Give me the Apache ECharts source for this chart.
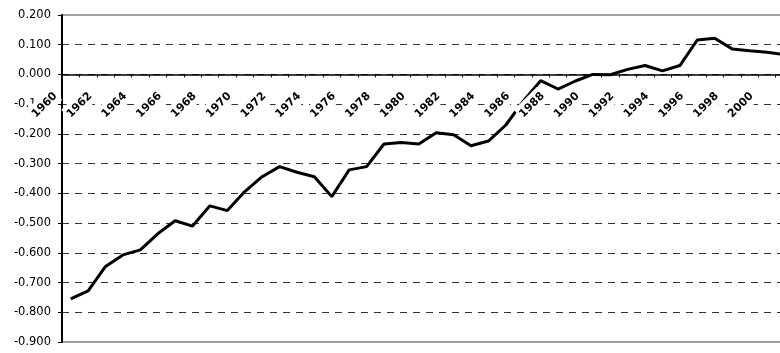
<!DOCTYPE html>
<html>
<head>
<meta charset="utf-8">
<script src="https://cdn.jsdelivr.net/npm/echarts@6/dist/echarts.min.js"></script>
<style>
  html, body { margin: 0; padding: 0; background: #fff; }
  #chart { width: 780px; height: 353px; }
</style>
</head>
<body>
<div id="chart"></div>
<script>
  // years shown on the category axis (2001 sits past the right edge)
  var years = ['1960','1961','1962','1963','1964','1965','1966','1967','1968','1969',
               '1970','1971','1972','1973','1974','1975','1976','1977','1978','1979',
               '1980','1981','1982','1983','1984','1985','1986','1987','1988','1989',
               '1990','1991','1992','1993','1994','1995','1996','1997','1998','1999',
               '2000','2001']
  var values = [-0.755, -0.728, -0.646, -0.607, -0.590, -0.536, -0.492, -0.510, -0.442, -0.458,
                -0.394, -0.344, -0.310, -0.329, -0.344, -0.411, -0.321, -0.310, -0.234, -0.229,
                -0.234, -0.196, -0.203, -0.240, -0.224, -0.170, -0.090, -0.021, -0.049, -0.022,
                 0.000, -0.001, 0.017, 0.030, 0.012, 0.030, 0.116, 0.122, 0.086, 0.080,
                 0.075, 0.067]
  var yMin = -0.9
  var yMax = 0.2
  var yStep = 0.1

  var gridTop = 15
  var gridBottom = 11
  var plotH = 353 - gridTop - gridBottom
  // x axis sits on the zero line, labels move with it
  var zeroOffset = -plotH * (0 - yMin) / (yMax - yMin)

  var chart = echarts.init(document.getElementById('chart'), null, { renderer: 'canvas' })
  chart.setOption({
    animation: false,
    backgroundColor: '#fff',
    grid: {
      left: 62,
      top: gridTop,
      bottom: gridBottom,
      right: -13,
      outerBoundsMode: 'none',
      containLabel: false,
      show: true,
      borderColor: '#a0a0a0',
      borderWidth: 2,
      backgroundColor: 'transparent'
    },
    xAxis: {
      type: 'category',
      data: years,
      boundaryGap: true,
      position: 'bottom',
      offset: zeroOffset,
      zlevel: 1,
      z: 10,
      axisLine: { onZero: false, lineStyle: { color: '#000', width: 1.5 } },
      axisTick: { show: true, interval: 0, length: 3, lineStyle: { color: '#000' } },
      axisLabel: {
        interval: 1,
        rotate: 45,
        margin: 4,
        padding: [0, 21, 0, 0],
        formatter: function (v) { return '{y|' + v + '}' },
        rich: {
          y: {
            fontFamily: 'DejaVu Sans',
            fontWeight: 'bold',
            fontSize: 11,
            color: '#000',
            backgroundColor: '#fff',
            padding: [4, 1, 3, 1]
          }
        }
      },
      splitLine: { show: false }
    },
    yAxis: {
      type: 'value',
      min: yMin,
      max: yMax,
      interval: yStep,
      axisLine: { show: true, lineStyle: { color: '#000', width: 2 } },
      axisTick: { show: true, length: 4, lineStyle: { color: '#000' } },
      axisLabel: {
        margin: 11,
        fontFamily: 'DejaVu Sans',
        fontSize: 11.5,
        color: '#000',
        formatter: function (v) { return v.toFixed(3) }
      },
      splitLine: {
        show: true,
        showMinLine: false,
        showMaxLine: false,
        lineStyle: { color: '#333', type: [7, 6], width: 1 }
      }
    },
    series: [
      {
        type: 'line',
        data: values,
        showSymbol: false,
        symbol: 'none',
        lineStyle: { color: '#000', width: 3 },
        z: 2
      }
    ]
  })
</script>
</body>
</html>
